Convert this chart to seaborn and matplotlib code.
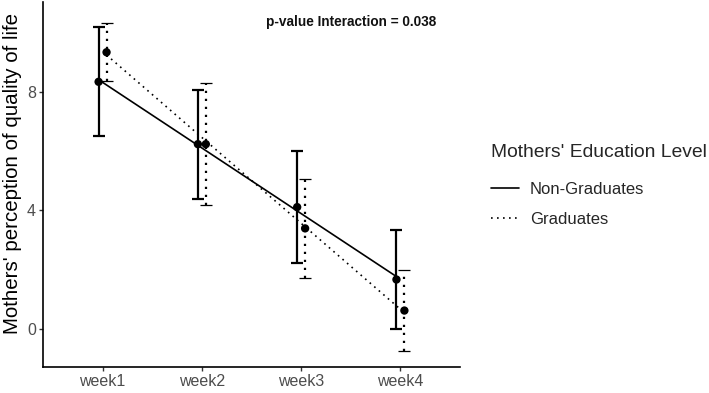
import matplotlib
matplotlib.use("Agg")
import matplotlib.pyplot as plt
from matplotlib.lines import Line2D
import numpy as np
import pandas as pd
import seaborn as sns

weeks = ["week1", "week2", "week3", "week4"]
groups = ["Non-Graduates", "Graduates"]
ng_mean = [8.35, 6.24, 4.11, 1.66]
ng_err = [1.85, 1.84, 1.90, 1.67]
g_mean = [9.35, 6.24, 3.39, 0.61]
g_err = [0.98, 2.06, 1.68, 1.37]

DOTTED = (0, (1, 2.6))

sns.set_theme(style="ticks")
plt.rcParams["font.family"] = ["Liberation Sans", "DejaVu Sans"]

fig = plt.figure(figsize=(7.09, 3.93), dpi=100)
ax = fig.add_axes([43 / 709, 1 - 367 / 393, (460 - 43) / 709, 365 / 393])

pos = np.arange(1, len(weeks) + 1)
styles = {"Non-Graduates": "-", "Graduates": DOTTED}
series = {
    "Non-Graduates": (ng_mean, ng_err, -0.04, 1.6),
    "Graduates": (g_mean, g_err, 0.04, 0.9),
}

for name in groups:
    mean, err, shift, cap_w = series[name]
    df = pd.DataFrame({"x": pos + shift, "y": mean})
    ls = styles[name]
    eb = ax.errorbar(df["x"], df["y"], yerr=err, fmt="none", ecolor="black",
                     elinewidth=1.6, capsize=4, capthick=cap_w)
    for coll in eb[2]:
        coll.set_linestyle(ls)
    sns.regplot(data=df, x="x", y="y", ax=ax, ci=None, scatter=False, truncate=True,
                line_kws={"color": "black", "linewidth": 1.2, "linestyle": ls})
    sns.scatterplot(data=df, x="x", y="y", ax=ax, color="black", s=36,
                    edgecolor="none", zorder=5)

ax.set_xlim(0.4, 4.6)
ax.set_ylim(-1.3, 11.05)
ax.set_xticks(pos)
ax.set_xticklabels(weeks)
ax.set_yticks([0, 4, 8])
ax.set_xlabel("")
ax.set_ylabel("Mothers' perception of quality of life", fontsize=14.8, color="black")
ax.yaxis.set_label_coords(-0.05, 0.53)
ax.tick_params(axis="both", labelsize=11.5, labelcolor="#4D4D4D", color="#333333",
               length=3, width=1, pad=2)
sns.despine(ax=ax)
for side in ["left", "bottom"]:
    ax.spines[side].set_color("black")
    ax.spines[side].set_linewidth(1.2)

ax.text(0.74, 0.945, "p-value Interaction = 0.038", transform=ax.transAxes,
        ha="center", va="center", fontsize=9.8, fontweight="bold", color="#111111")

handles = [Line2D([], [], color="black", linewidth=1.2, linestyle=styles[g]) for g in groups]
leg = fig.legend(handles, groups, title="Mothers' Education Level", loc="upper left",
                 bbox_to_anchor=(484 / 709, 1 - 137 / 393), frameon=False,
                 fontsize=12, title_fontsize=13.9, handlelength=1.7, labelspacing=0.95,
                 handletextpad=0.65, borderaxespad=0)
leg._legend_box.align = "left"
leg._legend_box.sep = 15

fig.savefig("out.png", dpi=100)
